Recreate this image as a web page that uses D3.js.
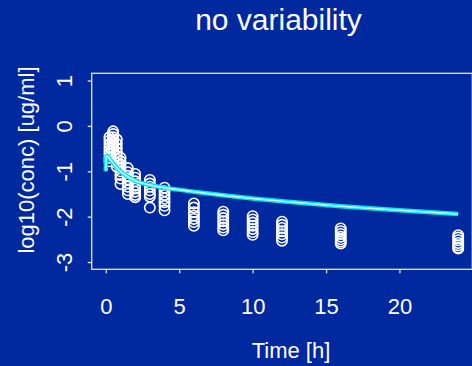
<!DOCTYPE html>
<html>
<head>
<meta charset="utf-8">
<script src="https://cdn.jsdelivr.net/npm/d3@7"></script>
<style>
  html, body { margin: 0; padding: 0; background: #0029a0; overflow: hidden; }
  svg { display: block; }
  text { font-family: "Liberation Sans", Arial, Helvetica, sans-serif; fill: #ffffff; }
</style>
</head>
<body>
<script>
// ---- data ----
const title = "no variability";
const xLabel = "Time [h]";
const yLabel = "log10(conc) [ug/ml]";
const xTicks = [0, 5, 10, 15, 20];
const yTicks = [-3, -2, -1, 0, 1];

const obsTimes = [0.25, 0.5, 0.75, 1, 1.5, 2, 3, 4, 6, 8, 10, 12, 16, 24];
const obsValues = [
  [-0.25, -0.32, -0.40, -0.48, -0.55, -0.62, -0.70, -0.78],
  [-0.12, -0.18, -0.25, -0.30, -0.36, -0.42, -0.48, -0.55],
  [-0.30, -0.40, -0.50, -0.58, -0.66, -0.74, -0.82, -0.90],
  [-0.70, -0.78, -0.85, -0.92, -1.00, -1.08, -1.16, -1.28],
  [-0.93, -1.02, -1.10, -1.18, -1.26, -1.34, -1.42, -1.50],
  [-1.06, -1.14, -1.22, -1.30, -1.38, -1.45, -1.52, -1.57],
  [-1.19, -1.27, -1.34, -1.42, -1.50, -1.56, -1.80],
  [-1.36, -1.44, -1.52, -1.60, -1.68, -1.76, -1.86],
  [-1.71, -1.80, -1.90, -1.98, -2.05, -2.12, -2.20],
  [-1.89, -1.96, -2.03, -2.10, -2.17, -2.24, -2.30],
  [-1.99, -2.06, -2.13, -2.20, -2.27, -2.34, -2.40],
  [-2.11, -2.18, -2.25, -2.32, -2.39, -2.46, -2.53],
  [-2.26, -2.32, -2.38, -2.44, -2.50, -2.55, -2.59],
  [-2.41, -2.46, -2.52, -2.58, -2.63, -2.68, -2.70]
];

const predTimes  = [0, 0.02, 0.1, 0.25, 0.5, 0.75, 1, 1.5, 2, 3, 4, 6, 8, 10, 12, 16, 20, 24];
const predValues = [-1.0, -0.67, -0.66, -0.72, -0.82, -0.92, -1.0, -1.12, -1.21, -1.30, -1.36, -1.45, -1.53, -1.60, -1.66, -1.77, -1.86, -1.94];

// ---- layout ----
const W = 472, H = 366;
const plot = { left: 91.7, right: 472.3, top: 73.3, bottom: 269.3 };

const svg = d3.select("body").append("svg").attr("width", W).attr("height", H);
svg.append("rect").attr("width", W).attr("height", H).attr("fill", "#0029a0");

const x = d3.scaleLinear().domain([-0.96, 24.96]).range([plot.left, plot.right]);
const y = d3.scaleLinear().domain([-3.16, 1.16]).range([plot.bottom, plot.top]);

const axisColor = "#e6e6e6";

// box
svg.append("rect")
  .attr("x", plot.left).attr("y", plot.top)
  .attr("width", plot.right - plot.left).attr("height", plot.bottom - plot.top)
  .attr("fill", "none").attr("stroke", axisColor).attr("stroke-width", 1.3);

// x axis
const xAxis = d3.axisBottom(x).tickValues(xTicks).tickSize(4).tickFormat("");
const gx = svg.append("g").attr("transform", `translate(0,${plot.bottom})`).call(xAxis);
gx.select(".domain").remove();
gx.selectAll("line").attr("stroke", axisColor).attr("stroke-width", 1.3);
gx.selectAll(".tick").append("text")
  .attr("y", 314 - plot.bottom).attr("text-anchor", "middle")
  .attr("font-size", 22).attr("fill", "#fff")
  .text(d => d);

// y axis
const yAxis = d3.axisLeft(y).tickValues(yTicks).tickSize(4).tickFormat("");
const gy = svg.append("g").attr("transform", `translate(${plot.left},0)`).call(yAxis);
gy.select(".domain").remove();
gy.selectAll("line").attr("stroke", axisColor).attr("stroke-width", 1.3);
gy.selectAll(".tick").append("text")
  .attr("transform", `translate(${72 - plot.left},0) rotate(-90)`)
  .attr("text-anchor", "middle")
  .attr("font-size", 22).attr("fill", "#fff")
  .text(d => d);

// observations
const obs = [];
obsTimes.forEach((t, i) => obsValues[i].forEach(v => obs.push({ t, v })));
svg.append("g").selectAll("circle").data(obs).join("circle")
  .attr("cx", d => x(d.t)).attr("cy", d => y(d.v)).attr("r", 5.2)
  .attr("fill", "none").attr("stroke", "#ffffff").attr("stroke-width", 1.6);

// prediction line
const pred = predTimes.map((t, i) => ({ t, v: predValues[i] }));
const line = d3.line().x(d => x(d.t)).y(d => y(d.v)).curve(d3.curveMonotoneX);
svg.append("path").datum(pred).attr("d", line)
  .attr("fill", "none").attr("stroke", "#00e5f0").attr("stroke-width", 4.5);
svg.append("path").datum(pred).attr("d", line)
  .attr("fill", "none").attr("stroke", "#c8ffff").attr("stroke-width", 1.6);

// titles
svg.append("text").attr("x", 278.5).attr("y", 30).attr("text-anchor", "middle")
  .attr("font-size", 30).text(title);
svg.append("text").attr("x", 291).attr("y", 358).attr("text-anchor", "middle")
  .attr("font-size", 22).text(xLabel);
svg.append("text").attr("transform", "translate(34,160) rotate(-90)")
  .attr("text-anchor", "middle").attr("font-size", 22).text(yLabel);
</script>
</body>
</html>
